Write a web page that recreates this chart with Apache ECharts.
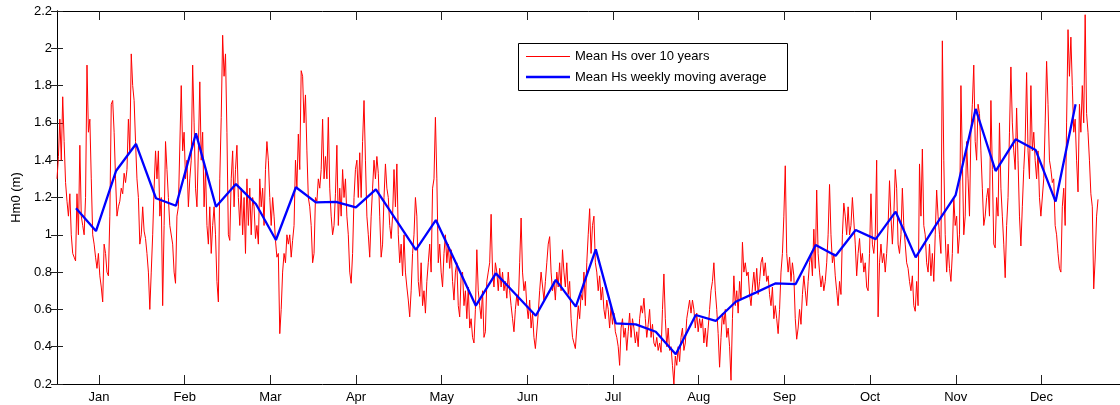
<!DOCTYPE html>
<html>
<head>
<meta charset="utf-8">
<title>Hm0 seasonal cycle</title>
<script src="https://cdn.jsdelivr.net/npm/echarts@6/dist/echarts.min.js"></script>
<style>
  html, body { margin: 0; padding: 0; background: #fff; }
  #chart { width: 1120px; height: 405px; }
</style>
</head>
<body>
<div id="chart"></div>
<script>
// Mean significant wave height (m) over 10 years, sampled every 12 hours, grouped by month.
const hsJan = [1.30,1.42,1.62,1.40,1.74,1.50,1.28,1.18,1.10,1.22,
  1.00,0.90,0.88,0.86,1.22,1.00,1.48,1.10,1.05,1.00,
  1.20,1.91,1.55,1.62,1.30,1.00,0.95,0.88,0.82,0.90,
  0.78,0.72,0.64,0.95,0.90,0.80,0.78,1.10,1.70,1.72,
  1.55,1.30,1.10,1.15,1.18,1.25,1.22,1.33,1.28,1.35,
  1.62,1.45,1.97,1.80,1.72,1.50,1.30,1.20,0.95,1.00];
const hsFeb = [1.15,1.02,0.98,0.90,0.80,0.60,0.80,1.00,1.25,1.45,
  1.30,1.45,1.10,1.20,0.62,1.05,1.50,1.35,1.20,1.05,
  1.05,0.95,0.80,0.74,1.10,1.15,1.15,1.80,1.45,1.55,
  1.30,1.40,1.15,1.30,1.40,1.91,1.60,1.25,1.15,1.45,
  1.82,1.40,1.55,1.15,1.35,1.05,0.95,1.15,0.90,1.05,
  1.15,1.00,0.75,0.64,1.30,1.63,2.07,1.85,1.97,1.55];
const hsMar = [1.00,0.97,1.30,1.45,1.15,1.35,1.48,1.20,1.05,1.25,
  1.00,1.20,0.90,1.30,1.05,1.25,1.00,1.20,1.15,0.98,
  1.05,0.95,1.30,1.15,1.25,1.05,1.35,1.50,1.40,1.20,
  1.05,1.20,1.10,0.97,0.88,0.90,0.47,0.60,0.80,0.90,
  0.85,1.00,0.95,1.00,0.88,0.97,1.05,1.40,1.25,1.54,
  1.35,1.88,1.85,1.60,1.75,1.45,1.20,1.15,1.05,0.85];
const hsApr = [0.90,1.20,1.18,1.30,1.25,1.35,1.62,1.30,1.42,1.30,
  1.63,1.25,1.10,1.00,1.05,1.22,1.48,1.05,1.25,1.10,
  1.35,1.20,1.30,1.10,1.00,0.80,0.74,0.90,1.20,1.35,
  1.40,1.20,1.44,1.20,1.50,1.72,1.40,1.10,1.00,0.88,
  1.10,1.25,1.40,1.30,1.42,1.33,1.10,0.88,0.95,1.20,
  1.38,1.25,1.20,1.05,0.98,1.10,1.35,1.15,1.38,1.00];
const hsMay = [0.85,0.95,0.78,1.00,0.80,0.72,0.65,0.56,0.70,0.90,
  1.00,1.20,1.10,0.75,0.67,0.85,0.62,0.70,0.58,0.75,
  0.85,0.95,0.80,1.25,1.30,1.63,1.30,0.85,0.95,0.80,
  0.72,0.90,1.00,0.85,0.95,0.82,0.92,0.75,0.65,0.80,
  0.85,0.62,0.56,0.78,0.80,0.62,0.70,0.55,0.72,0.50,
  0.55,0.45,0.42,0.60,0.92,0.70,0.62,0.55,0.70,0.45];
const hsJun = [0.48,0.75,0.80,0.85,1.11,0.80,0.72,0.85,0.80,0.70,
  0.82,0.72,0.80,0.70,0.75,0.66,0.80,0.70,0.62,0.55,
  0.48,0.60,0.68,0.62,0.85,1.09,0.80,0.70,0.75,0.62,
  0.55,0.65,0.50,0.58,0.45,0.39,0.40,0.58,0.70,0.80,
  0.79,0.65,0.75,0.85,0.95,0.99,0.80,0.70,0.75,0.65,
  0.80,0.72,0.85,0.70,0.92,0.80,0.72,0.85,0.68,0.75];
const hsJul = [0.55,0.45,0.42,0.39,0.50,0.62,0.55,0.68,0.65,0.80,
  0.62,0.85,1.00,1.14,0.90,1.05,1.10,0.85,0.80,0.70,
  0.78,0.65,0.72,0.60,0.55,0.65,0.60,0.50,0.62,0.52,
  0.58,0.48,0.45,0.40,0.30,0.50,0.55,0.45,0.50,0.38,
  0.48,0.58,0.45,0.55,0.50,0.42,0.48,0.40,0.55,0.62,
  0.58,0.66,0.55,0.45,0.52,0.60,0.45,0.52,0.42,0.40];
const hsAug = [0.45,0.38,0.42,0.37,0.60,0.79,0.55,0.40,0.50,0.38,
  0.40,0.30,0.20,0.35,0.30,0.40,0.32,0.45,0.50,0.38,
  0.42,0.55,0.60,0.65,0.58,0.65,0.60,0.50,0.58,0.48,
  0.55,0.50,0.55,0.42,0.50,0.40,0.50,0.60,0.70,0.75,
  0.85,0.70,0.60,0.47,0.29,0.45,0.58,0.52,0.60,0.45,
  0.50,0.40,0.22,0.55,0.78,0.62,0.70,0.58,0.75,0.65];
const hsSep = [0.96,0.80,0.85,0.78,0.80,0.68,0.62,0.72,0.80,0.70,
  0.82,0.68,0.75,0.85,0.88,0.78,0.85,0.75,0.78,0.68,
  0.62,0.72,0.55,0.62,0.55,0.47,0.60,0.80,0.90,1.10,
  1.37,0.90,0.80,0.88,0.75,0.85,0.78,0.55,0.44,0.50,
  0.60,0.52,0.68,0.78,0.70,0.62,0.75,0.85,0.90,0.78,
  1.03,0.82,1.24,0.90,0.80,0.72,0.78,0.70,0.75,0.85];
const hsOct = [1.00,1.27,1.00,0.85,0.90,0.78,0.70,0.62,0.75,0.68,
  1.00,1.17,1.10,1.00,1.15,1.00,1.05,1.20,1.20,0.95,
  0.78,0.90,0.98,0.85,0.90,0.80,0.85,0.72,0.70,0.90,
  1.22,0.95,0.90,1.00,1.40,0.56,0.85,0.95,0.85,0.90,
  0.80,0.90,1.05,1.29,1.10,0.95,1.10,1.35,1.25,0.95,
  0.90,1.00,1.25,1.05,0.95,0.85,0.82,0.75,0.70,0.78];
const hsNov = [0.62,0.59,0.75,0.62,1.38,1.10,1.46,1.05,1.00,0.85,
  0.80,0.95,0.78,0.90,0.75,1.00,1.24,1.10,1.00,0.90,
  2.04,1.40,1.00,0.80,0.95,0.82,0.75,0.90,1.20,1.05,
  1.10,0.90,1.00,1.80,1.40,1.00,1.10,1.50,1.30,1.10,
  1.55,1.70,1.91,1.50,1.40,1.70,1.65,1.45,1.25,1.05,
  1.10,1.20,1.25,1.10,1.72,1.35,0.95,0.93,1.20,1.10];
const hsDec = [1.60,1.25,1.10,0.95,0.77,1.05,1.20,1.55,1.90,1.60,
  1.45,1.35,1.68,1.40,1.10,0.94,1.15,1.35,1.50,1.87,
  1.45,1.30,1.80,1.45,1.55,1.40,1.30,1.45,1.20,1.10,
  1.10,1.30,1.60,1.93,1.70,1.40,1.35,1.28,1.30,1.05,
  1.00,0.90,0.82,0.80,1.15,1.25,1.05,1.60,2.10,1.85,
  2.06,1.80,1.55,1.62,1.40,1.23,1.70,1.55,1.80,1.60,
  2.18,1.65,1.55,1.40,1.22,1.15,0.71,0.87,1.10,1.19];

// Weekly moving average of the mean (m), one value per week.
const hsWeekly = [1.142,1.02,1.342,1.487,1.196,1.156,1.544,1.151,1.272,1.165,0.972,1.255,1.174,1.177,1.147,1.244,1.081,0.919,1.079,0.85,0.62,0.793,0.68,0.566,0.758,0.615,0.922,0.525,0.52,0.48,0.359,0.57,0.538,0.641,0.69,0.74,0.736,0.945,0.888,1.026,0.977,1.124,0.879,1.05,1.213,1.675,1.342,1.512,1.455,1.178,1.70];

// Month tick labels along the day-of-year axis.
const monthNames = ['Jan','Feb','Mar','Apr','May','Jun','Jul','Aug','Sep','Oct','Nov','Dec'];

// Y axis range and tick step (m).
const yMin = 0.2, yMax = 2.2, yStep = 0.2;

const hsHalfDaily = [].concat(hsJan, hsFeb, hsMar, hsApr, hsMay, hsJun, hsJul, hsAug, hsSep, hsOct, hsNov, hsDec);
const halfDailyPoints = hsHalfDaily.map((v, i) => [i * 0.5, v]);
const weeklyPoints = hsWeekly.map((v, i) => [6.65 + 7 * i, v]);
const monthTicks = monthNames.map((m, i) => 14.7 + 30 * i);

const FONT = "'Liberation Sans', Arial, Helvetica, sans-serif";
const black = '#000000';

function xAxisBase(pos, showLabels) {
  return {
    type: 'value',
    position: pos,
    min: 0,
    max: 373.6,
    axisLine: { show: true, lineStyle: { color: black, width: 1 } },
    axisTick: { show: true, inside: true, length: 9, customValues: monthTicks, lineStyle: { color: '#222', width: 1 } },
    axisLabel: {
      show: showLabels,
      customValues: monthTicks,
      margin: 7,
      color: black,
      fontFamily: FONT,
      fontSize: 13,
      formatter: v => monthNames[Math.round((v - 14.7) / 30)] || ''
    },
    splitLine: { show: false }
  };
}

function yAxisBase(pos, showLabels) {
  return {
    type: 'value',
    position: pos,
    min: yMin,
    max: yMax,
    interval: yStep,
    axisLine: { show: true, lineStyle: { color: black, width: 1 } },
    axisTick: { show: true, inside: true, length: 6, lineStyle: { color: '#222', width: 1 } },
    axisLabel: { show: showLabels, margin: 5, color: black, fontFamily: FONT, fontSize: 13 },
    splitLine: { show: false }
  };
}

const chart = echarts.init(document.getElementById('chart'), null, { renderer: 'canvas' });

const yLeft = yAxisBase('left', true);
yLeft.name = 'Hm0 (m)';
yLeft.nameLocation = 'middle';
yLeft.nameGap = 34;
yLeft.nameTextStyle = { color: black, fontFamily: FONT, fontSize: 13 };

chart.setOption({
  animation: false,
  backgroundColor: '#ffffff',
  grid: { left: 57, right: -4, top: 11, bottom: 21, outerBoundsMode: 'none' },
  xAxis: [xAxisBase('bottom', true), xAxisBase('top', false)],
  yAxis: [yLeft, yAxisBase('right', false)],
  series: [
    {
      name: 'Mean Hs over 10 years',
      type: 'line',
      data: halfDailyPoints,
      xAxisIndex: 0,
      yAxisIndex: 0,
      symbol: 'none',
      sampling: null,
      lineStyle: { color: '#ff0000', width: 1 },
      itemStyle: { color: '#ff0000' },
      z: 2
    },
    {
      name: 'Mean Hs weekly moving average',
      type: 'line',
      data: weeklyPoints,
      xAxisIndex: 0,
      yAxisIndex: 0,
      symbol: 'none',
      lineStyle: { color: '#0000ff', width: 2.3 },
      itemStyle: { color: '#0000ff' },
      z: 3
    }
  ],
  graphic: [
    {
      type: 'group',
      left: 518,
      top: 43,
      z: 10,
      children: [
        { type: 'rect', shape: { x: 0.5, y: 0.5, width: 269, height: 47 }, style: { fill: '#fff', stroke: black, lineWidth: 1 } },
        { type: 'line', shape: { x1: 8, y1: 13.5, x2: 52, y2: 13.5 }, style: { stroke: '#ff0000', lineWidth: 1 } },
        { type: 'line', shape: { x1: 8, y1: 34, x2: 52, y2: 34 }, style: { stroke: '#0000ff', lineWidth: 2.3 } },
        { type: 'text', x: 57, y: 13.5, style: { text: 'Mean Hs over 10 years', fill: black, font: '13px ' + FONT, verticalAlign: 'middle' } },
        { type: 'text', x: 57, y: 34, style: { text: 'Mean Hs weekly moving average', fill: black, font: '13px ' + FONT, verticalAlign: 'middle' } }
      ]
    }
  ]
});
</script>
</body>
</html>
